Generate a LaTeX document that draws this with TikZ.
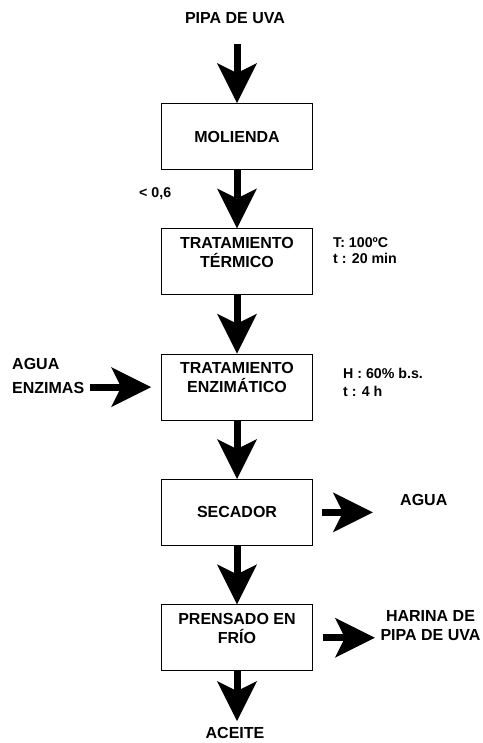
\documentclass[tikz,border=0pt]{standalone}
\usepackage{fontspec}
\setmainfont{Liberation Sans}
\usetikzlibrary{arrows.meta, positioning}
\tikzstyle{proceso} = [rectangle, minimum width=151pt, minimum height=66pt, text centered, align=center, draw=black, line width=0.8pt, font=\bfseries\fontsize{16}{19}\selectfont]
\tikzstyle{flecha} = [line width=7pt, -{Stealth[length=40pt, width=40pt, inset=10pt, line width=0pt]}]
\tikzstyle{rotulo} = [inner sep=0pt, font=\bfseries\fontsize{16}{19}\selectfont]
\tikzstyle{condicion} = [inner sep=0pt, align=left, font=\bfseries\fontsize{14.2}{16}\selectfont]

\begin{document}
\begin{tikzpicture}[x=1pt, y=1pt, node distance=58.5pt]
    \useasboundingbox (0,0) rectangle (482,-743);
    \node (molienda) [proceso] at (237,-136.5) {MOLIENDA};
    \node (termico) [proceso, below=of molienda] {TRATAMIENTO\\TÉRMICO\\\mbox{}};
    \node (enzimatico) [proceso, below=of termico] {TRATAMIENTO\\ENZIMÁTICO\\\mbox{}};
    \node (secador) [proceso, below=of enzimatico] {SECADOR};
    \node (prensado) [proceso, below=of secador] {PRENSADO EN\\FRÍO\\\mbox{}};
    % entrada y salida principal
    \node (pipa) [rotulo, anchor=base] at (235,-23.5) {PIPA DE UVA};
    \coordinate [above=59pt of molienda] (inicio);
    \coordinate [below=50pt of prensado] (fin);
    \node (aceite) [rotulo] at (235,-733) {ACEITE};
    \draw [flecha] (inicio) -- (molienda);
    \draw [flecha] (molienda) -- (termico);
    \draw [flecha] (termico) -- (enzimatico);
    \draw [flecha] (enzimatico) -- (secador);
    \draw [flecha] (secador) -- (prensado);
    \draw [flecha] (prensado) -- (fin);
    % condiciones
    \node (tamano) [condicion, anchor=base west] at (139,-198) {< 0,6};
    \node (cond1) [condicion, anchor=north west] at (333,-237) {T: 100ºC\\t : 20 min};
    \node (cond2) [condicion, anchor=north west] at (343,-368) {H : 60\% b.s.\\[2pt]t : 4 h};
    % corrientes laterales
    \node (entradas) [rotulo, align=left, anchor=north west] at (12,-358.5) {AGUA\\[5pt]ENZIMAS};
    \coordinate [left=71pt of enzimatico] (origen);
    \draw [flecha, shorten >=10pt] (origen) -- (enzimatico);
    \coordinate [right=60pt of secador] (salida1);
    \draw [flecha, shorten <=9pt] (secador) -- (salida1);
    \node (agua) [rotulo, anchor=west] at (400,-500) {AGUA};
    \coordinate [right=62pt of prensado] (salida2);
    \draw [flecha, shorten <=10pt] (prensado) -- (salida2);
    \node (harina) [rotulo, align=center, anchor=north] at (430.5,-610.5) {HARINA DE\\PIPA DE UVA};
\end{tikzpicture}
\end{document}
